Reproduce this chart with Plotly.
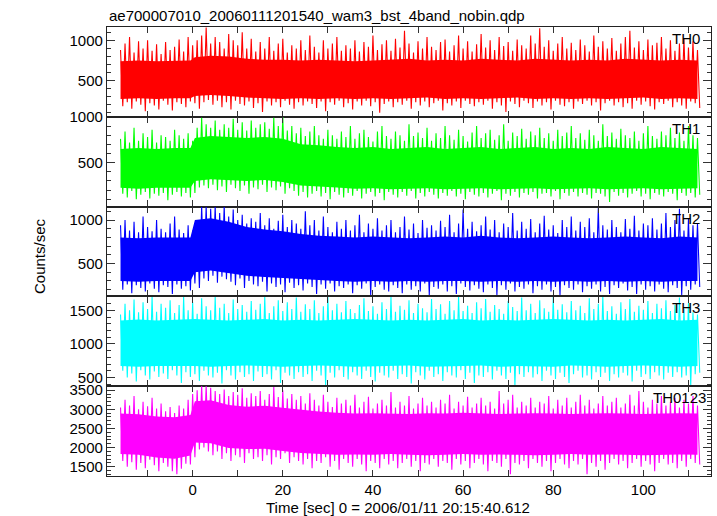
import plotly.graph_objects as go
from plotly.subplots import make_subplots

# Time bins (sec): one high and one low excursion (spike tips) read per second
T = list(range(-16, 113))
# Coarse time grid (sec) for the dense core of each band (step at t=0)
CT = [-16, -12, -8, -4, -0.5, 0.5] + list(range(4, 113, 4))

TH0_hi = [880, 960, 1040, 850, 990, 900, 1000, 870, 950, 830,
          980, 880, 920, 1010, 860, 1040, 940, 1000, 1060, 1160,
          960, 1040, 980, 900, 1080, 1000, 940, 1100, 900, 1020,
          860, 980, 900, 1040, 870, 960, 1020, 850, 940, 900,
          1000, 880, 1060, 920, 850, 1000, 900, 960, 1040, 870,
          940, 900, 1000, 860, 980, 920, 1060, 880, 950, 1000,
          870, 1020, 910, 1120, 960, 850, 990, 900, 1040, 920,
          880, 980, 1010, 860, 940, 1060, 900, 990, 860, 950,
          1080, 910, 1000, 880, 1040, 930, 980, 870, 1010, 940,
          900, 1060, 960, 1150, 920, 1000, 870, 960, 1040, 900,
          970, 880, 1010, 940, 860, 1060, 920, 990, 900, 1030,
          870, 960, 1040, 1120, 910, 990, 880, 1010, 940, 970,
          1040, 900, 1000, 870, 960, 1020, 910, 990, 880]
TH0_lo = [180, 230, 150, 240, 200, 120, 220, 190, 140, 250,
          200, 130, 230, 210, 170, 240, 220, 150, 230, 260,
          200, 250, 170, 230, 140, 250, 210, 190, 240, 160,
          220, 110, 240, 190, 230, 170, 250, 200, 150, 230,
          190, 240, 210, 160, 240, 120, 230, 200, 250, 170,
          220, 140, 240, 190, 250, 180, 230, 100, 210, 240,
          170, 230, 200, 250, 150, 230, 190, 240, 170, 220,
          250, 130, 220, 190, 240, 160, 250, 210, 180, 230,
          200, 250, 150, 230, 190, 110, 240, 210, 170, 250,
          220, 160, 240, 190, 230, 140, 250, 200, 180, 230,
          150, 240, 210, 250, 190, 230, 130, 220, 250, 190,
          230, 170, 220, 150, 250, 200, 240, 180, 140, 230,
          210, 250, 170, 230, 190, 150, 240, 220, 160]
TH0_core_top = [740, 750, 740, 750, 750, 790,
                810, 800, 770, 760, 760, 750, 760, 750, 740, 750, 760, 770, 750, 760,
                750, 770, 760, 750, 770, 760, 750, 760, 750, 770, 760, 750, 760, 750]
TH0_core_bot = [270, 280, 270, 280, 280, 310,
                320, 310, 290, 280, 270, 280, 270, 280, 270, 280, 270, 280, 290, 270,
                280, 270, 280, 290, 270, 280, 270, 280, 270, 280, 290, 270, 280, 270]

TH1_hi = [760, 840, 720, 880, 740, 820, 780, 860, 720, 800,
          780, 740, 860, 800, 760, 820, 740, 880, 990, 920,
          880, 960, 860, 920, 880, 980, 860, 940, 850, 960,
          880, 920, 940, 870, 990, 900, 1000, 850, 900, 820,
          880, 790, 840, 900, 800, 760, 860, 800, 760, 840,
          780, 900, 760, 820, 860, 780, 730, 840, 900, 790,
          760, 840, 800, 740, 920, 790, 830, 770, 880, 740,
          820, 770, 900, 800, 750, 860, 790, 730, 830, 900,
          770, 820, 860, 750, 800, 920, 740, 830, 790, 870,
          760, 840, 800, 880, 770, 820, 740, 860, 790, 830,
          900, 770, 820, 750, 860, 800, 740, 920, 790, 830,
          760, 870, 800, 770, 840, 740, 820, 900, 790, 760,
          840, 800, 880, 770, 830, 740, 900, 800, 770]
TH1_lo = [160, 120, 190, 100, 150, 180, 110, 160, 140, 170,
          90, 150, 180, 130, 170, 120, 170, 230, 250, 220,
          260, 200, 240, 180, 260, 220, 190, 250, 160, 230,
          210, 260, 180, 230, 200, 240, 160, 220, 190, 140,
          180, 120, 160, 190, 130, 170, 100, 180, 150, 120,
          170, 140, 190, 110, 160, 180, 130, 170, 90, 180,
          150, 120, 180, 140, 190, 110, 170, 130, 180, 150,
          110, 170, 140, 190, 130, 160, 100, 180, 150, 130,
          170, 120, 160, 190, 90, 160, 140, 180, 120, 170,
          150, 180, 110, 160, 170, 130, 190, 100, 170, 140,
          180, 130, 170, 150, 110, 170, 160, 130, 70, 180,
          140, 170, 120, 160, 190, 130, 160, 100, 170, 150,
          130, 180, 160, 90, 170, 140, 170, 120, 150]
TH1_core_top = [650, 660, 650, 660, 660, 770,
                790, 780, 770, 780, 760, 700, 690, 670, 660, 670, 650, 660, 670, 650,
                660, 670, 650, 660, 670, 650, 660, 650, 670, 660, 650, 670, 660, 650]
TH1_core_bot = [225, 215, 225, 225, 225, 300,
                320, 310, 300, 310, 290, 250, 240, 230, 215, 220, 210, 215, 220, 210,
                215, 220, 210, 215, 220, 210, 215, 220, 210, 215, 220, 210, 215, 220]

TH2_hi = [940, 1000, 880, 980, 860, 1040, 920, 870, 1000, 900,
          860, 960, 1040, 890, 850, 940, 880, 980, 1160, 1160,
          1130, 1160, 1080, 1160, 1040, 1120, 1000, 1060, 960, 1020,
          980, 1080, 940, 1020, 900, 990, 1060, 920, 1000, 960,
          900, 1100, 940, 1000, 880, 1040, 920, 860, 980, 900,
          1000, 880, 940, 1060, 860, 960, 900, 1020, 880, 940,
          1000, 860, 920, 1040, 890, 960, 850, 1000, 910, 940,
          880, 990, 920, 1060, 860, 960, 1120, 900, 980, 870,
          940, 1040, 890, 1000, 860, 960, 920, 1080, 880, 980,
          900, 1010, 860, 960, 1050, 890, 940, 850, 1000, 920,
          1040, 880, 980, 920, 1020, 860, 1140, 940, 890, 1000,
          920, 860, 1010, 900, 1050, 880, 960, 940, 1020, 890,
          960, 1080, 920, 1000, 1130, 880, 1010, 940, 960]
TH2_lo = [200, 260, 160, 250, 220, 180, 270, 210, 170, 250,
          230, 150, 260, 210, 240, 190, 270, 220, 330, 300,
          360, 280, 350, 320, 290, 250, 330, 220, 300, 260,
          240, 290, 180, 270, 230, 260, 170, 280, 220, 250,
          190, 270, 230, 150, 260, 210, 270, 180, 240, 220,
          260, 160, 250, 210, 270, 140, 230, 260, 200, 180,
          250, 220, 160, 260, 200, 240, 180, 270, 140, 230,
          210, 260, 180, 240, 150, 270, 230, 190, 250, 210,
          170, 260, 220, 140, 250, 200, 270, 180, 230, 210,
          260, 160, 240, 200, 260, 180, 230, 140, 250, 220,
          200, 260, 170, 240, 210, 260, 180, 230, 150, 250,
          220, 270, 190, 230, 150, 260, 200, 240, 180, 260,
          210, 170, 250, 220, 140, 240, 200, 260, 230]
TH2_core_top = [800, 790, 800, 800, 800, 1000,
                1020, 980, 920, 890, 870, 840, 820, 810, 800, 810, 800, 790, 800, 810,
                800, 820, 800, 790, 800, 810, 800, 790, 800, 810, 800, 790, 810, 800]
TH2_core_bot = [300, 290, 300, 300, 300, 400,
                420, 390, 360, 345, 335, 320, 310, 300, 290, 300, 290, 300, 290, 300,
                300, 290, 300, 290, 300, 290, 300, 290, 300, 290, 300, 290, 300, 300]

TH3_hi = [1440, 1600, 1500, 1660, 1470, 1620, 1520, 1700, 1480, 1600,
          1540, 1650, 1460, 1580, 1700, 1500, 1620, 1450, 1680, 1560,
          1500, 1700, 1540, 1600, 1460, 1660, 1520, 1580, 1480, 1640,
          1510, 1600, 1700, 1460, 1560, 1650, 1490, 1620, 1520, 1690,
          1480, 1590, 1520, 1650, 1460, 1560, 1700, 1500, 1600, 1470,
          1640, 1520, 1460, 1580, 1680, 1490, 1560, 1450, 1620, 1520,
          1700, 1480, 1570, 1510, 1650, 1460, 1600, 1530, 1470, 1670,
          1520, 1590, 1450, 1640, 1500, 1700, 1490, 1570, 1460, 1620,
          1530, 1670, 1480, 1580, 1520, 1450, 1640, 1550, 1490, 1690,
          1500, 1600, 1460, 1650, 1530, 1480, 1700, 1510, 1590, 1470,
          1640, 1500, 1570, 1460, 1680, 1520, 1600, 1700, 1490, 1560,
          1450, 1620, 1520, 1670, 1480, 1570, 1510, 1640, 1460, 1600,
          1530, 1650, 1490, 1580, 1690, 1520, 1610, 1470, 1440]
TH3_lo = [600, 500, 560, 440, 610, 530, 470, 590, 510, 560,
          480, 610, 530, 420, 580, 510, 550, 450, 600, 530,
          500, 570, 410, 610, 530, 470, 580, 510, 550, 450,
          590, 510, 550, 470, 610, 420, 570, 530, 480, 580,
          510, 550, 450, 600, 530, 380, 570, 500, 610, 510,
          470, 580, 530, 480, 600, 510, 440, 570, 530, 500,
          600, 480, 550, 510, 410, 580, 530, 470, 600, 510,
          550, 450, 580, 530, 500, 610, 480, 570, 420, 530,
          510, 580, 470, 600, 530, 480, 570, 390, 550, 510,
          580, 500, 550, 450, 600, 530, 480, 570, 510, 420,
          550, 600, 500, 530, 470, 580, 510, 570, 450, 550,
          500, 570, 530, 440, 600, 510, 550, 480, 580, 530,
          470, 570, 510, 580, 500, 530, 390, 550, 570]
TH3_core_top = [1350, 1365, 1350, 1360, 1360, 1370,
                1360, 1350, 1360, 1370, 1350, 1360, 1350, 1360, 1370, 1360, 1350, 1360, 1350, 1360,
                1370, 1350, 1360, 1350, 1360, 1370, 1360, 1350, 1360, 1350, 1360, 1370, 1350, 1360]
TH3_core_bot = [670, 660, 670, 680, 670, 670,
                660, 670, 680, 670, 660, 670, 680, 670, 660, 670, 670, 680, 660, 670,
                670, 680, 660, 670, 670, 660, 680, 670, 660, 670, 680, 670, 660, 670]

TH0123_hi = [3050, 3250, 3100, 3350, 3000, 3200, 3080, 3300, 3020, 3150,
             2950, 3060, 2900, 3100, 3020, 3250, 3400, 3500, 3620, 3620,
             3560, 3480, 3400, 3520, 3350, 3450, 3380, 3550, 3300, 3420,
             3350, 3480, 3250, 3400, 3580, 3320, 3500, 3280, 3400, 3250,
             3350, 3150, 3420, 3250, 3100, 3380, 3200, 3060, 3300, 3150,
             3250, 3100, 3380, 3050, 3200, 3330, 3020, 3150, 3250, 3100,
             3450, 3050, 3200, 3100, 3350, 3020, 3150, 3300, 3100, 3200,
             3050, 3250, 3150, 3380, 3020, 3200, 3100, 3330, 3050, 3150,
             3300, 3100, 3200, 3020, 3480, 3150, 3250, 3380, 3050, 3200,
             3100, 3300, 3050, 3200, 3150, 3350, 3020, 3250, 3100, 3300,
             3050, 3200, 3380, 3100, 3250, 3020, 3150, 3350, 3100, 3200,
             3300, 3050, 3150, 3380, 3100, 3480, 3200, 3050, 3250, 3150,
             3350, 3100, 3200, 3300, 3050, 3250, 3150, 3350, 3100]
TH0123_lo = [1650, 1500, 1620, 1420, 1600, 1460, 1680, 1540, 1380, 1600,
             1500, 1380, 1300, 1450, 1580, 1560, 1750, 1950, 2000, 1900,
             1800, 1900, 1700, 1850, 1650, 1800, 1750, 1600, 1850, 1700,
             1750, 1650, 1800, 1560, 1750, 1700, 1850, 1600, 1750, 1650,
             1560, 1700, 1460, 1650, 1600, 1750, 1500, 1650, 1420, 1700,
             1600, 1500, 1700, 1560, 1380, 1650, 1600, 1460, 1700, 1560,
             1650, 1460, 1600, 1700, 1500, 1650, 1380, 1600, 1560, 1700,
             1500, 1650, 1600, 1420, 1700, 1560, 1650, 1460, 1600, 1700,
             1560, 1380, 1650, 1600, 1500, 1700, 1300, 1600, 1560, 1650,
             1460, 1700, 1600, 1500, 1650, 1380, 1600, 1700, 1560, 1460,
             1650, 1560, 1700, 1300, 1600, 1500, 1650, 1420, 1600, 1700,
             1560, 1650, 1460, 1600, 1700, 1500, 1650, 1560, 1380, 1600,
             1700, 1560, 1600, 1460, 1650, 1500, 1700, 1600, 1560]
TH0123_core_top = [2890, 2870, 2810, 2790, 2850, 3210,
                   3240, 3110, 3070, 3090, 3040, 2990, 2940, 2910, 2890, 2900, 2890, 2880, 2900, 2890,
                   2910, 2890, 2880, 2890, 2900, 2890, 2880, 2890, 2900, 2890, 2880, 2890, 2900, 2890]
TH0123_core_bot = [1830, 1810, 1740, 1710, 1790, 2130,
                   2110, 1990, 1960, 1970, 1910, 1860, 1830, 1810, 1820, 1810, 1830, 1810, 1800, 1810,
                   1830, 1810, 1820, 1810, 1800, 1810, 1830, 1810, 1820, 1810, 1800, 1810, 1820, 1810]

NAMES = ["TH0", "TH1", "TH2", "TH3", "TH0123"]
COLORS = ["#ff0000", "#00ff00", "#0000ff", "#00ffff", "#ff00ff"]
HIS = [TH0_hi, TH1_hi, TH2_hi, TH3_hi, TH0123_hi]
LOS = [TH0_lo, TH1_lo, TH2_lo, TH3_lo, TH0123_lo]
CORE_TOP = [TH0_core_top, TH1_core_top, TH2_core_top, TH3_core_top, TH0123_core_top]
CORE_BOT = [TH0_core_bot, TH1_core_bot, TH2_core_bot, TH3_core_bot, TH0123_core_bot]
YRANGES = [[50, 1166], [20, 1001], [123, 1154], [371, 1708], [1257, 3604]]

TITLE = "ae700007010_20060111201540_wam3_bst_4band_nobin.qdp"
XTITLE = "Time [sec] 0 = 2006/01/11 20:15:40.612"
YTITLE = "Counts/sec"

FONT = "Liberation Sans, Arial, Helvetica, sans-serif"

fig = make_subplots(rows=5, cols=1, shared_xaxes=True, vertical_spacing=0)

for i in range(5):
    n = min(len(CT), len(CORE_TOP[i]), len(CORE_BOT[i]))
    ct = CT[:n]
    # dense core of the band
    fig.add_trace(go.Scatter(x=ct + ct[::-1], y=CORE_TOP[i][:n] + CORE_BOT[i][:n][::-1],
                             mode="lines", fill="toself", fillcolor=COLORS[i],
                             line=dict(width=0, color=COLORS[i]),
                             showlegend=False, hoverinfo="skip"),
                  row=i + 1, col=1)
    # excursions
    xs, ys = [], []
    for t, h, l in zip(T, HIS[i], LOS[i]):
        xs += [t, t + 0.5]
        ys += [h, l]
    fig.add_trace(go.Scatter(x=xs, y=ys, mode="lines",
                             line=dict(color=COLORS[i], width=1.1),
                             showlegend=False, hoverinfo="skip"),
                  row=i + 1, col=1)
    fig.update_yaxes(range=YRANGES[i], row=i + 1, col=1)

fig.update_xaxes(range=[-19, 115], dtick=20, tick0=0, ticks="inside", ticklen=6,
                 tickcolor="#333", minor=dict(dtick=10, ticklen=6, ticks="inside", tickcolor="#333"),
                 showline=True, linecolor="#222", linewidth=1.3, mirror="ticks",
                 showgrid=False, zeroline=False, tickfont=dict(size=15, color="black"))
fig.update_yaxes(dtick=500, tick0=0, ticks="inside", ticklen=8, tickcolor="#333",
                 minor=dict(dtick=100, ticklen=4, ticks="inside", tickcolor="#333"),
                 showline=True, linecolor="#222", linewidth=1.3, mirror="ticks",
                 showgrid=False, zeroline=False, tickfont=dict(size=15, color="black"))

ann = [
    dict(text=TITLE, x=0, y=1, xref="paper", yref="paper", xanchor="left", yanchor="middle",
         yshift=11.5, showarrow=False, font=dict(size=15, color="black")),
    dict(text=XTITLE, x=0.481, y=0, xref="paper", yref="paper", xanchor="center", yanchor="middle",
         yshift=-31, showarrow=False, font=dict(size=15, color="black")),
    dict(text=YTITLE, x=0, y=0.49, xref="paper", yref="paper", xanchor="center", yanchor="middle",
         xshift=-67, textangle=-90, showarrow=False, font=dict(size=15, color="black")),
]
label_x = [0.985, 0.985, 0.985, 0.985, 0.995]
for i, name in enumerate(NAMES):
    ann.append(dict(text=name, x=label_x[i], y=1 - 0.2 * i, xref="paper", yref="paper",
                    xanchor="right", yanchor="top", yshift=-1, showarrow=False,
                    font=dict(size=15, color="black")))

fig.update_layout(width=717, height=516, autosize=False,
                  margin=dict(l=107, r=6, t=27, b=40),
                  paper_bgcolor="white", plot_bgcolor="white",
                  font=dict(family=FONT, size=15, color="black"),
                  annotations=ann)

fig.write_html("out.html", config={"displayModeBar": False},
               post_script="document.body.style.margin='0';")
